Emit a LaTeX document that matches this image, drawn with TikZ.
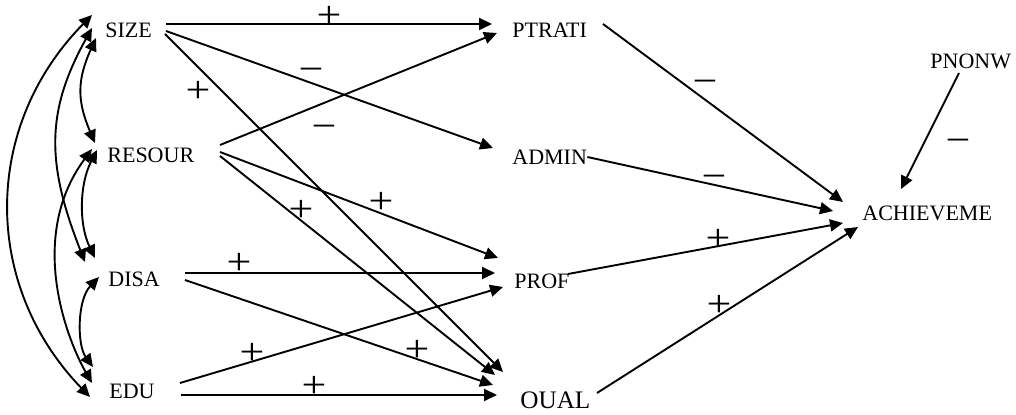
\documentclass[tikz,border=0pt]{standalone}
\usepackage{fontspec}
\usepackage{graphicx}
\setmainfont{Liberation Serif}
\usetikzlibrary{arrows.meta,calc}
\newcommand{\pl}{\scalebox{1}[0.85]{+}}
\newcommand{\mn}{\scalebox{1}[0.85]{\vphantom{+}−}}
\begin{document}
\begin{tikzpicture}[x=0.5pt,y=-0.5pt,
  var/.style={inner sep=0pt,anchor=west,font=\fontsize{11}{11}\selectfont},
  bigvar/.style={inner sep=0pt,anchor=west,font=\fontsize{12.6}{12.6}\selectfont},
  sgn/.style={inner sep=0pt,font=\fontsize{22}{22}\selectfont},
  path/.style={line width=0.95pt,-{Triangle[length=6.5pt,width=6pt]}},
  dbl/.style={line width=0.95pt,{Triangle[length=6.5pt,width=6pt]}-{Triangle[length=6.5pt,width=6pt]}}]
\useasboundingbox (0,0) rectangle (1016,415);
% nodes
\node[var] (SIZE) at (105,30) {SIZE};
\node[var] (RESOUR) at (107,155) {RESOUR};
\node[var] (DISA) at (108,279) {DISA};
\node[var] (EDU) at (109,391) {EDU};
\node[var] (PTRATI) at (512,30) {PTRATI};
\node[var] (ADMIN) at (512,157) {ADMIN};
\node[var] (PROF) at (514,281) {PROF};
\node[bigvar] (OUAL) at (520,400) {OUAL};
\node[var] (ACH) at (862,213) {ACHIEVEME};
\node[var] (PNONW) at (930,61) {PNONW};
% straight paths
\draw[path] ($(SIZE.west)+(61,-6)$) -- ($(PTRATI.west)+(-20,-6)$);
\draw[path] ($(SIZE.west)+(61,1)$) -- ($(ADMIN.west)+(-19,-9)$);
\draw[path] ($(SIZE.west)+(60,4)$) -- ($(OUAL.west)+(-17,-28)$);
\draw[path] ($(RESOUR.west)+(113,-10)$) -- ($(PTRATI.west)+(-15,3)$);
\draw[path] ($(RESOUR.west)+(113,-3)$) -- ($(PROF.west)+(-16,-23)$);
\draw[path] ($(RESOUR.west)+(113,1)$) -- ($(OUAL.west)+(-25,-25)$);
\draw[path] ($(DISA.west)+(77,-6)$) -- ($(PROF.west)+(-19,-8)$);
\draw[path] ($(DISA.west)+(77,1)$) -- ($(OUAL.west)+(-27,-15)$);
\draw[path] ($(EDU.west)+(71,-8)$) -- ($(PROF.west)+(-11,6)$);
\draw[path] ($(EDU.west)+(72,4)$) -- ($(OUAL.west)+(-23,-5)$);
\draw[path] ($(PTRATI.west)+(91,-6)$) -- ($(ACH.west)+(-19,-11)$);
\draw[path] (ADMIN.east) -- ($(ACH.west)+(-29,-2)$);
\draw[path] ($(PROF.west)+(54,-7)$) -- ($(ACH.west)+(-19,10)$);
\draw[path] ($(OUAL.west)+(77,-7)$) -- ($(ACH.west)+(-4,14)$);
\draw[path] ($(PNONW.west)+(29,12)$) -- ($(ACH.west)+(39,-24)$);
% curved correlations
\draw[dbl] ($(SIZE.west)+(-13,-15)$) .. controls (-18,127) and (-18,285) .. ($(EDU.west)+(-19,6)$);
\draw[dbl] ($(SIZE.west)+(-13,-2)$) .. controls (46,111) and (46,163) .. ($(DISA.west)+(-23,-17)$);
\draw[dbl] ($(SIZE.west)+(-9,8)$) .. controls (77,80) and (77,101) .. ($(RESOUR.west)+(-12,-12)$);
\draw[dbl] ($(RESOUR.west)+(-15,-6)$) .. controls (25,240) and (70,345) .. ($(EDU.west)+(-17,-8)$);
\draw[dbl] ($(RESOUR.west)+(-10,-5)$) .. controls (79,185) and (79,225) .. ($(DISA.west)+(-13,-21)$);
\draw[dbl] ($(DISA.west)+(-9,-2)$) .. controls (77,300) and (77,345) .. ($(EDU.west)+(-16,-24)$);
% signs
\node[sgn] (l1) at (329,17) {\pl};
\node[sgn] (l2) at (311,71) {\mn};
\node[sgn] (l3) at (324,128) {\mn};
\node[sgn] (l4) at (198,92) {\pl};
\node[sgn] (l5) at (381,203) {\pl};
\node[sgn] (l6) at (301,211) {\pl};
\node[sgn] (l7) at (239,264) {\pl};
\node[sgn] (l8) at (417,351) {\pl};
\node[sgn] (l9) at (252,354) {\pl};
\node[sgn] (l10) at (314,387) {\pl};
\node[sgn] (l11) at (705,83) {\mn};
\node[sgn] (l12) at (714,178) {\mn};
\node[sgn] (l13) at (718,240) {\pl};
\node[sgn] (l14) at (719,306) {\pl};
\node[sgn] (l15) at (958,142) {\mn};
\end{tikzpicture}
\end{document}
